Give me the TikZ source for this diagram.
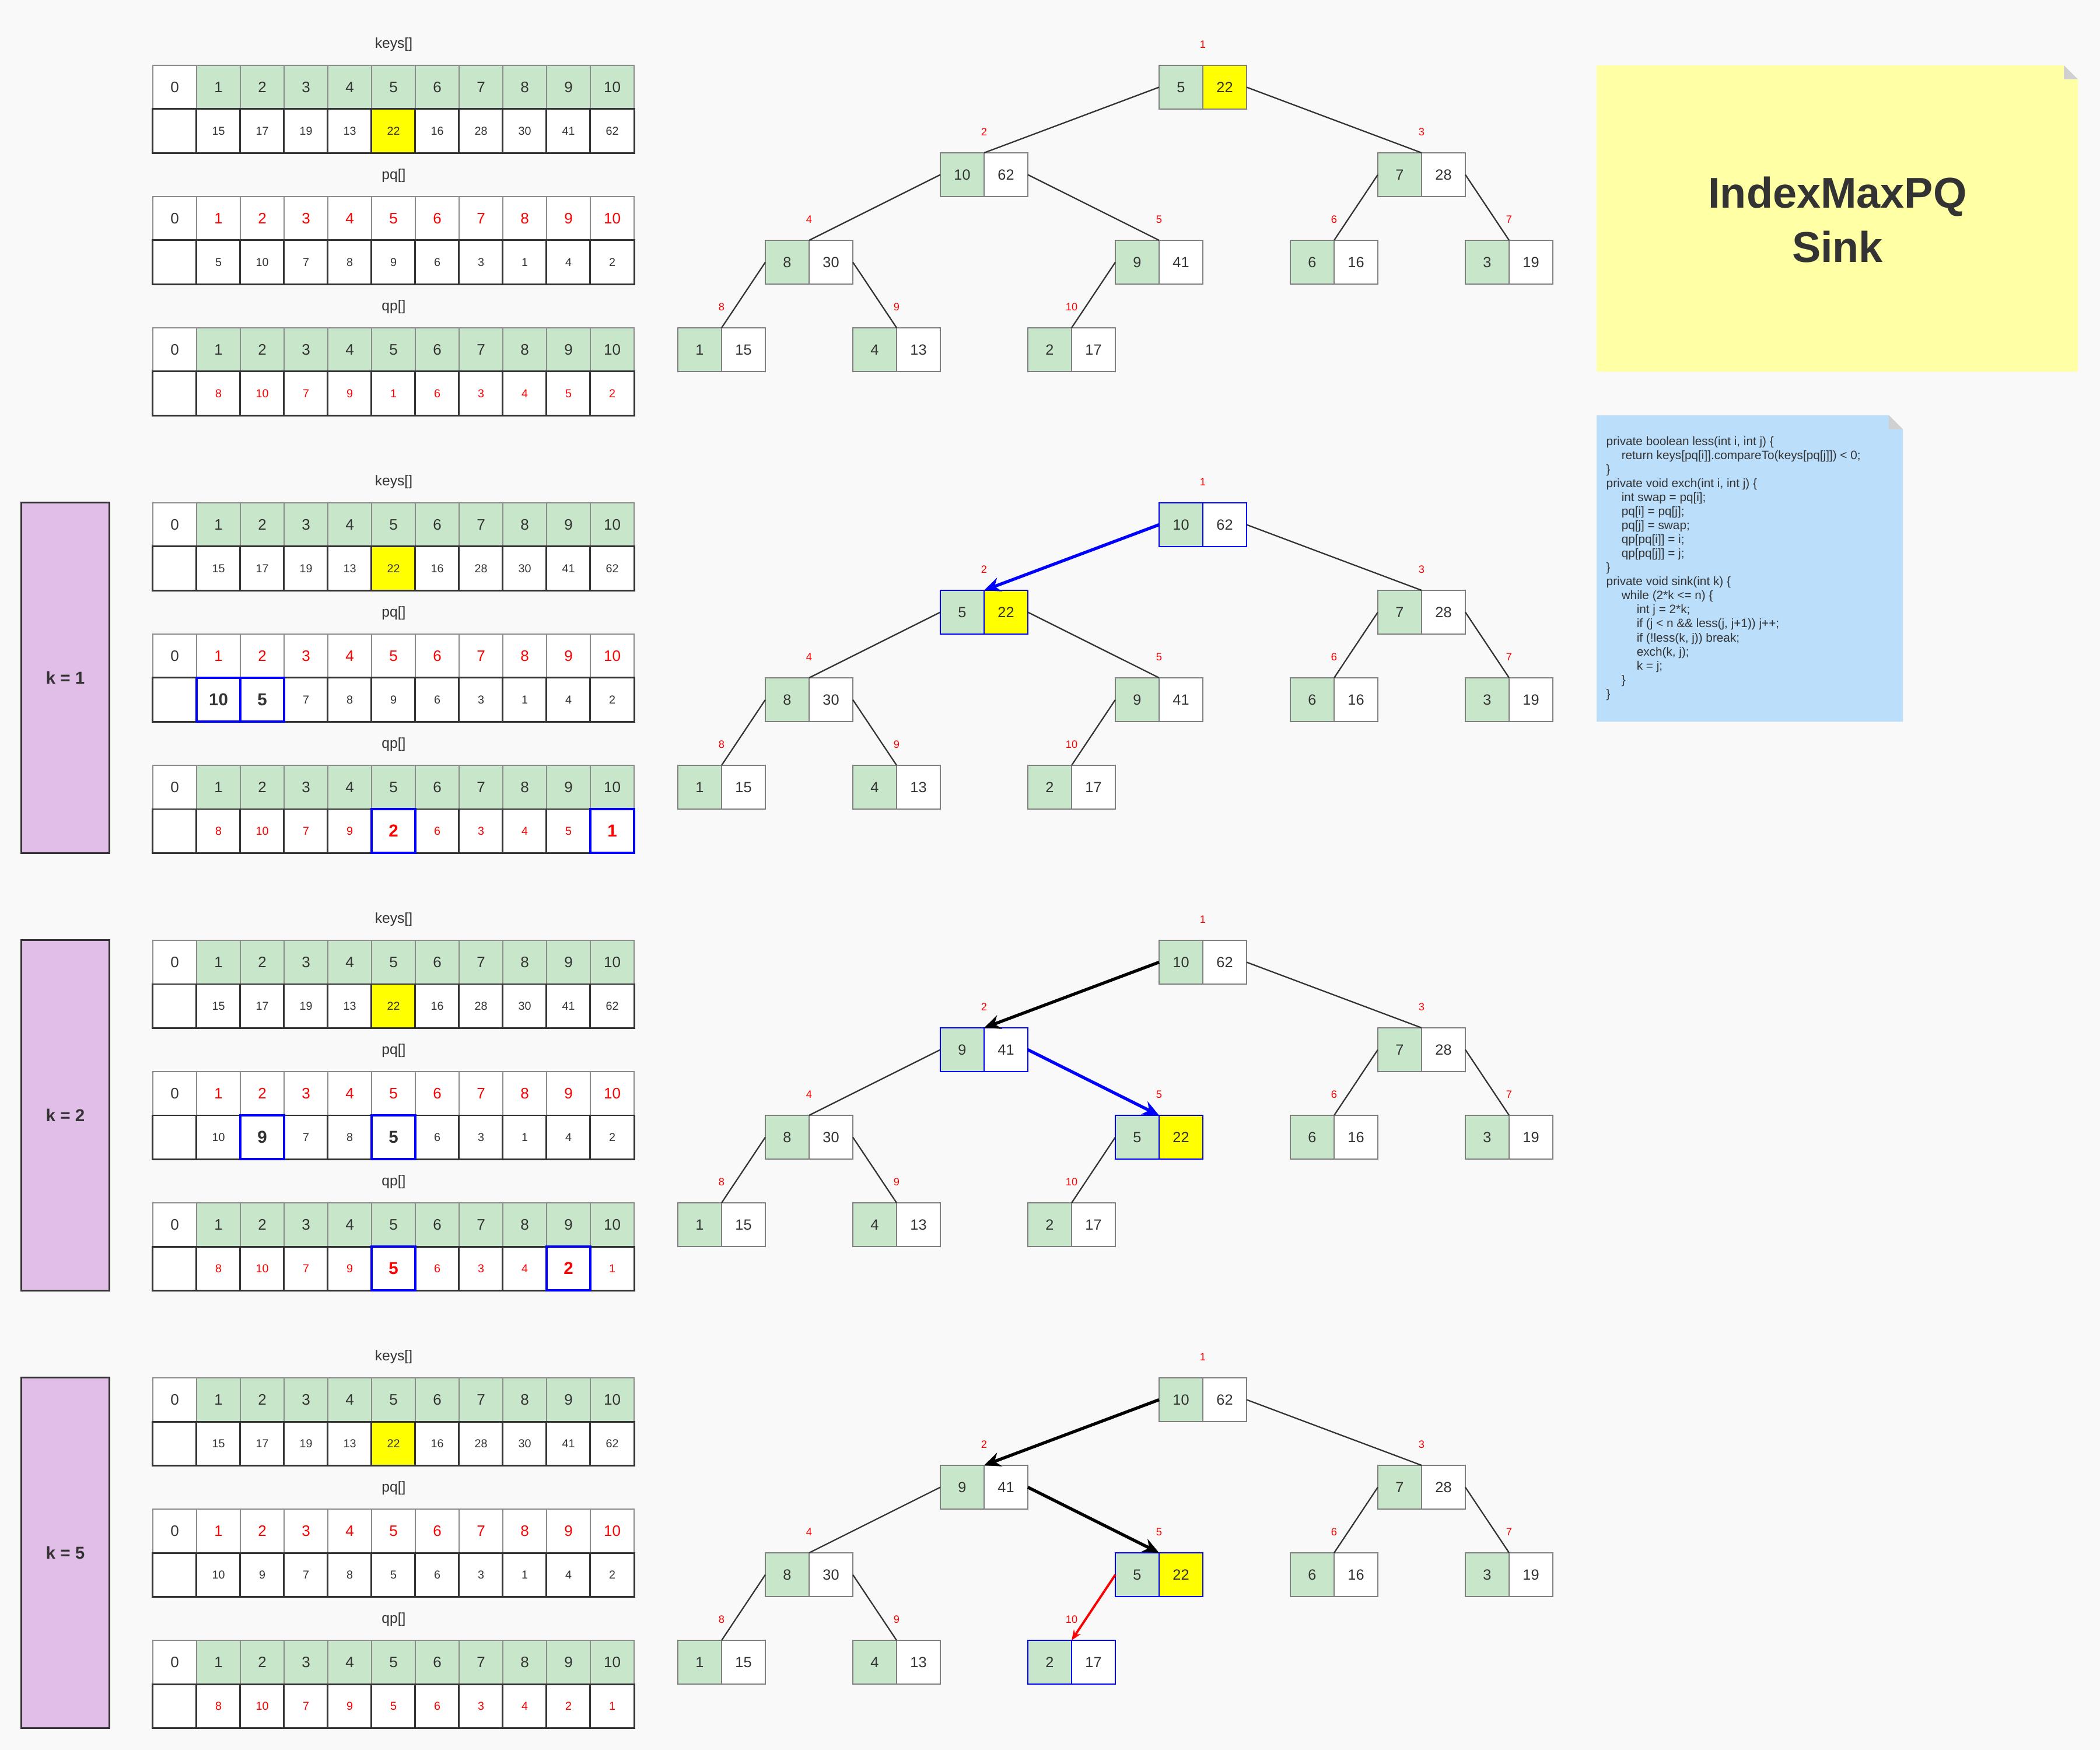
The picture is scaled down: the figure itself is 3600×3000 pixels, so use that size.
\documentclass[tikz,border=0pt]{standalone}
\usepackage{fontspec}
\setmainfont{Liberation Sans}
\usetikzlibrary{arrows.meta}
\definecolor{bg}{HTML}{F9F9F9}
\definecolor{txt}{HTML}{333333}
\definecolor{grn}{HTML}{C8E6C9}
\definecolor{yel}{HTML}{FFFF00}
\definecolor{notey}{HTML}{FFFFA6}
\definecolor{codebg}{HTML}{BBDEFB}
\definecolor{purp}{HTML}{E1BEE7}
\definecolor{foldc}{HTML}{D0D0D0}
\definecolor{hdr}{HTML}{8C8C8C}
\definecolor{tbord}{HTML}{7F7F7F}

\tikzset{
  cell/.style={shape=rectangle, minimum width=0.75cm, minimum height=0.75cm, inner sep=0pt, outer sep=0pt, text=txt},
  hW/.style={cell, draw=hdr, line width=0.45pt, fill=white, font=\fontsize{7.4}{8.8}\selectfont},
  hG/.style={hW, fill=grn},
  vc/.style={cell, draw=txt, line width=0.85pt, fill=white, font=\fontsize{5.6}{6.7}\selectfont},
  vN/.style={},
  vY/.style={fill=yel},
  vR/.style={text=red},
  vH/.style={font=\fontsize{8.4}{10}\selectfont\bfseries},
  vRH/.style={vH, text=red},
  hlbox/.style={draw=blue, line width=0.9pt},
  tn/.style={cell, draw=tbord, line width=0.45pt, font=\fontsize{7.2}{8.6}\selectfont},
  tG/.style={tn, fill=grn},
  tW/.style={tn, fill=white},
  tY/.style={tn, fill=yel},
  tGb/.style={tG, draw=blue},
  tWb/.style={tW, draw=blue},
  tYb/.style={tY, draw=blue},
  idx/.style={text=red, font=\fontsize{5.2}{6.2}\selectfont, inner sep=0pt},
  albl/.style={text=txt, font=\fontsize{7}{8.4}\selectfont, inner sep=0pt},
  ed/.style={draw=txt, line width=0.65pt},
  ab/.style={draw=blue, line width=1.5pt, -{Stealth[length=8pt,width=7pt]}},
  ak/.style={draw=black, line width=1.5pt, -{Stealth[length=8pt,width=7pt]}},
  ar/.style={draw=red, line width=1.1pt, -{Stealth[length=5pt,width=4pt]}},
  kbox/.style={shape=rectangle, draw=txt, line width=0.85pt, fill=purp, minimum width=1.5cm, minimum height=6cm, inner sep=0pt, text=txt, font=\fontsize{8.4}{10}\selectfont\bfseries},
}

% arrays of one section: #1 id, #2 y offset, #3 pq values, #4 qp values
\newcommand\drawsec[4]{%
  \node[albl] (s#1kl) at (675,76+#2) {keys[]};
  \node[hW] (s#1kh0) at (299.5,149.5+#2) {0};
  \foreach \i in {1,...,10} \node[hG] (s#1kh\i) at (299.5+75*\i,149.5+#2) {\i};
  \node[vc] (s#1kv0) at (299.5,224.5+#2) {};
  \foreach \vv/\st [count=\i] in {15/vN,17/vN,19/vN,13/vN,22/vY,16/vN,28/vN,30/vN,41/vN,62/vN}
    \node[vc,\st] (s#1kv\i) at (299.5+75*\i,224.5+#2) {\vv};
  \node[albl] (s#1pl) at (675,301+#2) {pq[]};
  \node[hW] (s#1ph0) at (299.5,374.5+#2) {0};
  \foreach \i in {1,...,10} \node[hW,text=red] (s#1ph\i) at (299.5+75*\i,374.5+#2) {\i};
  \node[vc] (s#1pv0) at (299.5,449.5+#2) {};
  \foreach \vv/\st [count=\i] in {#3}
    \node[vc,\st] (s#1pv\i) at (299.5+75*\i,449.5+#2) {\vv};
  \node[albl] (s#1ql) at (675,526+#2) {qp[]};
  \node[hW] (s#1qh0) at (299.5,599.5+#2) {0};
  \foreach \i in {1,...,10} \node[hG] (s#1qh\i) at (299.5+75*\i,599.5+#2) {\i};
  \node[vc] (s#1qv0) at (299.5,674.5+#2) {};
  \foreach \vv/\st [count=\i] in {#4}
    \node[vc,\st] (s#1qv\i) at (299.5+75*\i,674.5+#2) {\vv};
}
\newcommand\hlcell[1]{\draw[hlbox] (#1.north west) rectangle (#1.south east);}

% tree: #1 id, #2 y offset, #3 node list, #4 edge list
\newcommand\drawtree[4]{%
  \foreach \p/\x/\y/\kk/\vv/\lst/\rst in {#3} {
    \node[\lst] (t#1p\p-a) at (\x+37.5,\y+37.5+#2) {\kk};
    \node[\rst] (t#1p\p-b) at (\x+112.5,\y+37.5+#2) {\vv};
    \node[idx] (t#1p\p-i) at (\x+75,\y-36+#2) {\p};
  }
  \foreach \pa/\ch/\an/\es in {#4}
    \draw[\es] (t#1p\pa-\an) -- (t#1p\ch-a.north east);
}

\begin{document}
\begin{tikzpicture}[x=0.01cm,y=-0.01cm]
\fill[bg] (0,0) rectangle (3600,3000);
\useasboundingbox (0,0) rectangle (3600,3000);

% ---------- arrays ----------
\drawsec{1}{0}{5/vN,10/vN,7/vN,8/vN,9/vN,6/vN,3/vN,1/vN,4/vN,2/vN}{8/vR,10/vR,7/vR,9/vR,1/vR,6/vR,3/vR,4/vR,5/vR,2/vR}
\drawsec{2}{750}{10/vH,5/vH,7/vN,8/vN,9/vN,6/vN,3/vN,1/vN,4/vN,2/vN}{8/vR,10/vR,7/vR,9/vR,2/vRH,6/vR,3/vR,4/vR,5/vR,1/vRH}
\hlcell{s2pv1}\hlcell{s2pv2}\hlcell{s2qv5}\hlcell{s2qv10}
\drawsec{3}{1500}{10/vN,9/vH,7/vN,8/vN,5/vH,6/vN,3/vN,1/vN,4/vN,2/vN}{8/vR,10/vR,7/vR,9/vR,5/vRH,6/vR,3/vR,4/vR,2/vRH,1/vR}
\hlcell{s3pv2}\hlcell{s3pv5}\hlcell{s3qv5}\hlcell{s3qv9}
\drawsec{4}{2250}{10/vN,9/vN,7/vN,8/vN,5/vN,6/vN,3/vN,1/vN,4/vN,2/vN}{8/vR,10/vR,7/vR,9/vR,5/vR,6/vR,3/vR,4/vR,2/vR,1/vR}

% ---------- k boxes ----------
\node[kbox] (k1) at (112,1162) {k = 1};
\node[kbox] (k2) at (112,1912) {k = 2};
\node[kbox] (k5) at (112,2662) {k = 5};

% ---------- trees ----------
\drawtree{1}{0}{1/1987/112/5/22/tG/tY,2/1612/262/10/62/tG/tW,3/2362/262/7/28/tG/tW,4/1312/412/8/30/tG/tW,5/1912/412/9/41/tG/tW,6/2212/412/6/16/tG/tW,7/2512/412/3/19/tG/tW,8/1162/562/1/15/tG/tW,9/1462/562/4/13/tG/tW,10/1762/562/2/17/tG/tW}
{1/2/a.west/ed,1/3/b.east/ed,2/4/a.west/ed,2/5/b.east/ed,3/6/a.west/ed,3/7/b.east/ed,4/8/a.west/ed,4/9/b.east/ed,5/10/a.west/ed}

\drawtree{2}{750}{1/1987/112/10/62/tGb/tWb,2/1612/262/5/22/tGb/tYb,3/2362/262/7/28/tG/tW,4/1312/412/8/30/tG/tW,5/1912/412/9/41/tG/tW,6/2212/412/6/16/tG/tW,7/2512/412/3/19/tG/tW,8/1162/562/1/15/tG/tW,9/1462/562/4/13/tG/tW,10/1762/562/2/17/tG/tW}
{1/3/b.east/ed,2/4/a.west/ed,2/5/b.east/ed,3/6/a.west/ed,3/7/b.east/ed,4/8/a.west/ed,4/9/b.east/ed,5/10/a.west/ed,1/2/a.west/ab}

\drawtree{3}{1500}{1/1987/112/10/62/tG/tW,2/1612/262/9/41/tGb/tWb,3/2362/262/7/28/tG/tW,4/1312/412/8/30/tG/tW,5/1912/412/5/22/tGb/tYb,6/2212/412/6/16/tG/tW,7/2512/412/3/19/tG/tW,8/1162/562/1/15/tG/tW,9/1462/562/4/13/tG/tW,10/1762/562/2/17/tG/tW}
{1/3/b.east/ed,2/4/a.west/ed,3/6/a.west/ed,3/7/b.east/ed,4/8/a.west/ed,4/9/b.east/ed,5/10/a.west/ed,1/2/a.west/ak,2/5/b.east/ab}

\drawtree{4}{2250}{1/1987/112/10/62/tG/tW,2/1612/262/9/41/tG/tW,3/2362/262/7/28/tG/tW,4/1312/412/8/30/tG/tW,5/1912/412/5/22/tGb/tYb,6/2212/412/6/16/tG/tW,7/2512/412/3/19/tG/tW,8/1162/562/1/15/tG/tW,9/1462/562/4/13/tG/tW,10/1762/562/2/17/tGb/tWb}
{1/3/b.east/ed,2/4/a.west/ed,3/6/a.west/ed,3/7/b.east/ed,4/8/a.west/ed,4/9/b.east/ed,1/2/a.west/ak,2/5/b.east/ak,5/10/a.west/ar}

% ---------- title note ----------
\fill[notey] (2737,112) -- (3538,112) -- (3562,136) -- (3562,637) -- (2737,637) -- cycle;
\fill[foldc] (3538,112) -- (3562,136) -- (3538,136) -- cycle;
\node[text=txt, font=\fontsize{21}{26.5}\selectfont\bfseries, align=center, inner sep=0pt] (title) at (3150,377) {IndexMaxPQ\\Sink};

% ---------- code note ----------
\fill[codebg] (2737,712) -- (3238,712) -- (3262,736) -- (3262,1237) -- (2737,1237) -- cycle;
\fill[foldc] (3238,712) -- (3262,736) -- (3238,736) -- cycle;
\node[anchor=north west, inner sep=0pt, align=left, text=txt, font=\fontsize{5.9}{6.83}\selectfont] (code) at (2753,748) {%
private boolean less(int i, int j) \{\\
\hspace*{7.4pt}return keys[pq[i]].compareTo(keys[pq[j]]) < 0;\\
\}\\
private void exch(int i, int j) \{\\
\hspace*{7.4pt}int swap = pq[i];\\
\hspace*{7.4pt}pq[i] = pq[j];\\
\hspace*{7.4pt}pq[j] = swap;\\
\hspace*{7.4pt}qp[pq[i]] = i;\\
\hspace*{7.4pt}qp[pq[j]] = j;\\
\}\\
private void sink(int k) \{\\
\hspace*{7.4pt}while (2*k <= n) \{\\
\hspace*{14.8pt}int j = 2*k;\\
\hspace*{14.8pt}if (j < n \&\& less(j, j+1)) j++;\\
\hspace*{14.8pt}if (!less(k, j)) break;\\
\hspace*{14.8pt}exch(k, j);\\
\hspace*{14.8pt}k = j;\\
\hspace*{7.4pt}\}\\
\}};
\end{tikzpicture}
\end{document}
